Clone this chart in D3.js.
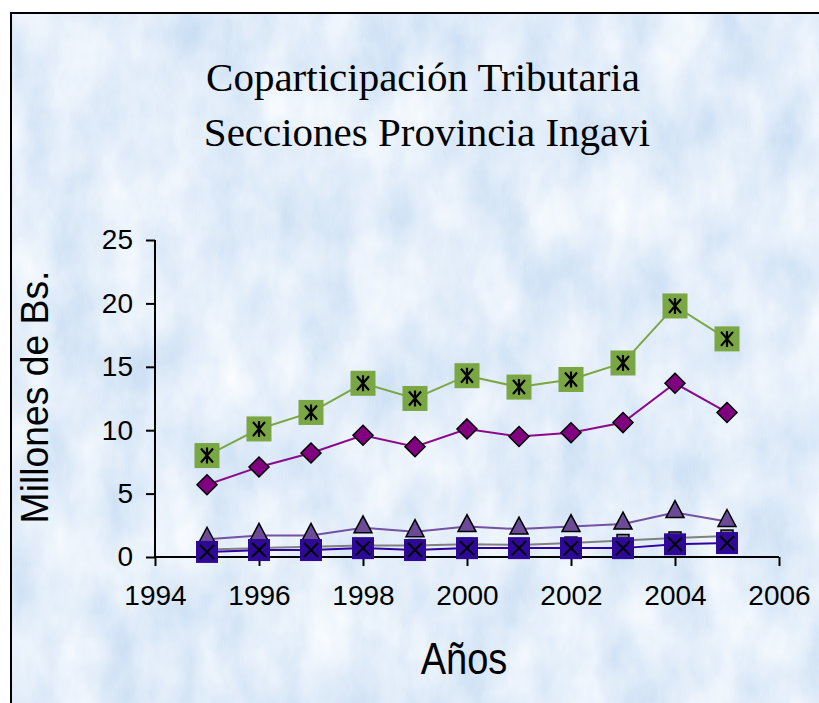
<!DOCTYPE html>
<html>
<head>
<meta charset="utf-8">
<script src="https://cdn.jsdelivr.net/npm/d3@7"></script>
<style>
  body { margin: 0; background: #fff; }
  svg { display: block; }
</style>
</head>
<body>
<div id="chart"></div>
<script>
// data
var years = [1995, 1996, 1997, 1998, 1999, 2000, 2001, 2002, 2003, 2004, 2005]
var seccionA = [8.0, 10.1, 11.4, 13.7, 12.5, 14.3, 13.4, 14.0, 15.3, 19.8, 17.2]
var seccionB = [5.7, 7.1, 8.2, 9.6, 8.7, 10.1, 9.5, 9.8, 10.6, 13.7, 11.4]
var seccionC = [1.4, 1.7, 1.7, 2.3, 2.0, 2.4, 2.2, 2.4, 2.6, 3.5, 2.8]
var seccionD = [0.6, 0.7, 0.8, 0.9, 0.9, 1.0, 0.95, 1.1, 1.3, 1.5, 1.65]
var seccionE = [0.4, 0.55, 0.55, 0.7, 0.55, 0.7, 0.7, 0.7, 0.7, 1.0, 1.1]
var xTicks = [1994, 1996, 1998, 2000, 2002, 2004, 2006]
var yTicks = [0, 5, 10, 15, 20, 25]

var width = 819
var height = 703

var svg = d3.select("#chart").append("svg")
  .attr("width", width)
  .attr("height", height)

var defs = svg.append("defs")

// mottled light blue background
var filter = defs.append("filter").attr("id", "clouds")
  .attr("x", 0).attr("y", 0).attr("width", 1).attr("height", 1)
filter.append("feTurbulence")
  .attr("type", "fractalNoise")
  .attr("baseFrequency", "0.02 0.012")
  .attr("numOctaves", 4)
  .attr("seed", 7)
filter.append("feColorMatrix")
  .attr("type", "matrix")
  .attr("values", "0 0 0 0.45 0.54  0 0 0 0.3 0.7  0 0 0 0.12 0.89  0 0 0 0 1")

var grain = defs.append("filter").attr("id", "grain")
  .attr("x", 0).attr("y", 0).attr("width", 1).attr("height", 1)
grain.append("feTurbulence")
  .attr("type", "turbulence")
  .attr("baseFrequency", "0.7 0.08")
  .attr("numOctaves", 1)
  .attr("seed", 3)
grain.append("feColorMatrix")
  .attr("type", "matrix")
  .attr("values", "0 0 0 0 1  0 0 0 0 1  0 0 0 0 1  0.7 0 0 0 -0.1")

svg.append("rect")
  .attr("x", 10).attr("y", 12)
  .attr("width", width).attr("height", height)
  .attr("fill", "#d3e4f7")
svg.append("rect")
  .attr("x", 10).attr("y", 12)
  .attr("width", width).attr("height", height)
  .attr("filter", "url(#clouds)")
svg.append("rect")
  .attr("x", 10).attr("y", 12)
  .attr("width", width).attr("height", height)
  .attr("filter", "url(#grain)")
  .attr("opacity", 0.3)

// frame (only left and top edges are visible)
svg.append("path")
  .attr("d", "M11," + height + "V13H" + width)
  .attr("fill", "none")
  .attr("stroke", "#000")
  .attr("stroke-width", 2)

// title
var title = svg.append("text")
  .attr("text-anchor", "middle")
  .attr("font-family", "Liberation Serif, Times New Roman, serif")
  .attr("font-size", 41)
  .attr("fill", "#000")
title.append("tspan").attr("x", 423).attr("y", 91).text("Coparticipación Tributaria")
title.append("tspan").attr("x", 427).attr("y", 146).text("Secciones Provincia Ingavi")

var x = d3.scaleLinear().domain([1994, 2006]).range([155, 779])
var y = d3.scaleLinear().domain([0, 25]).range([557, 240])

var yAxis = svg.append("g")
  .attr("transform", "translate(155,0)")
  .call(d3.axisLeft(y).tickValues(yTicks).tickSize(9).tickPadding(13))
var xAxis = svg.append("g")
  .attr("transform", "translate(0,557)")
  .call(d3.axisBottom(x).tickValues(xTicks).tickFormat(d3.format("d")).tickSize(9).tickPadding(31))

;[yAxis, xAxis].forEach(function (a) {
  a.select(".domain").attr("stroke", "#000").attr("stroke-width", 2)
  a.selectAll(".tick line").attr("stroke", "#000").attr("stroke-width", 2)
  a.selectAll(".tick text")
    .attr("font-family", "Liberation Sans, Arial, sans-serif")
    .attr("font-size", 28)
    .attr("fill", "#000")
})
xAxis.selectAll(".tick text").attr("dy", "0.3em")
xAxis.select(".domain").attr("d", "M155,0H779")
yAxis.select(".domain").attr("d", "M0,240V557")

// axis titles
svg.append("text")
  .attr("transform", "translate(48,397) rotate(-90) scale(1.13,1.15)")
  .attr("text-anchor", "middle")
  .attr("font-family", "Liberation Sans, Arial, sans-serif")
  .attr("font-size", 33)
  .text("Millones de Bs.")

svg.append("text")
  .attr("transform", "translate(464,674) scale(0.95,1.12)")
  .attr("text-anchor", "middle")
  .attr("font-family", "Liberation Sans, Arial, sans-serif")
  .attr("font-size", 40)
  .text("Años")

var line = d3.line()
  .x(function (d) { return x(d.year) })
  .y(function (d) { return y(d.value) })

function toPoints(values) {
  return values.map(function (v, i) { return { year: years[i], value: v } })
}

var series = [
  { values: seccionC, color: "#7451a3", marker: "triangle" },
  { values: seccionD, color: "#808080", marker: "graysquare" },
  { values: seccionE, color: "#3300a0", marker: "xsquare" },
  { values: seccionB, color: "#8b0a8b", marker: "diamond" },
  { values: seccionA, color: "#7aa643", marker: "starsquare" }
]

series.forEach(function (s) {
  var pts = toPoints(s.values)
  svg.append("path")
    .datum(pts)
    .attr("d", line)
    .attr("fill", "none")
    .attr("stroke", s.color)
    .attr("stroke-width", 2)

  var g = svg.selectAll(null)
    .data(pts)
    .enter()
    .append("g")
    .attr("transform", function (d) { return "translate(" + x(d.year) + "," + y(d.value) + ")" })

  if (s.marker == "triangle") {
    g.append("path")
      .attr("d", "M0,-12L9,5H-9Z")
      .attr("fill", "#6b4a96")
      .attr("stroke", "#000")
      .attr("stroke-width", 1.5)
  } else if (s.marker == "graysquare") {
    g.append("rect")
      .attr("x", -6).attr("y", -6).attr("width", 12).attr("height", 12)
      .attr("fill", "#7f7f7f")
      .attr("stroke", "#000")
      .attr("stroke-width", 1.5)
  } else if (s.marker == "xsquare") {
    g.append("rect")
      .attr("x", -11).attr("y", -11).attr("width", 22).attr("height", 22)
      .attr("fill", "#2e0896")
    g.append("path")
      .attr("d", "M-7,-7L7,7M7,-7L-7,7")
      .attr("stroke", "#000")
      .attr("stroke-width", 2)
  } else if (s.marker == "diamond") {
    g.append("path")
      .attr("d", "M0,-10L10,0L0,10L-10,0Z")
      .attr("fill", "#800080")
      .attr("stroke", "#000")
      .attr("stroke-width", 1.5)
  } else {
    g.append("rect")
      .attr("x", -12.5).attr("y", -12.5).attr("width", 25).attr("height", 25)
      .attr("fill", "#7aa643")
    g.append("path")
      .attr("d", "M-6,-7L6,7M6,-7L-6,7M0,-8V8")
      .attr("stroke", "#000")
      .attr("stroke-width", 2.2)
  }
})
</script>
</body>
</html>
